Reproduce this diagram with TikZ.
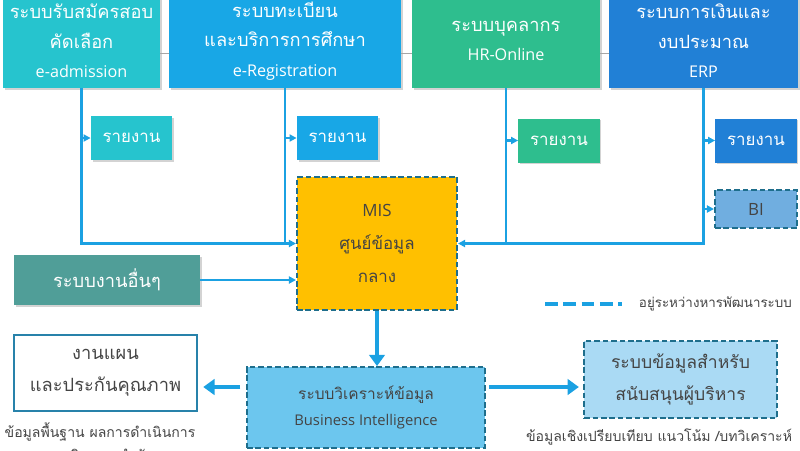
\documentclass[tikz,border=0pt]{standalone}
\usepackage{fontspec}
\setmainfont[Script=Thai]{Loma}
\newfontfamily\en{Open Sans}
\usetikzlibrary{arrows.meta,shadows}
\definecolor{admcol}{RGB}{38,196,206}
\definecolor{regcol}{RGB}{24,167,230}
\definecolor{hrcol}{RGB}{46,190,142}
\definecolor{erpcol}{RGB}{33,128,214}
\definecolor{othercol}{RGB}{80,158,152}
\definecolor{miscol}{RGB}{255,192,0}
\definecolor{bicol}{RGB}{112,174,224}
\definecolor{anacol}{RGB}{108,198,238}
\definecolor{execcol}{RGB}{170,218,244}
\definecolor{linecol}{RGB}{27,161,226}
\definecolor{devcol}{RGB}{30,110,140}
\definecolor{plancol}{RGB}{40,130,170}
\definecolor{txtcol}{RGB}{68,68,68}
\begin{document}
\begin{tikzpicture}[x = 0.025cm, y = -0.025cm, align = center,
    sys/.style = {fill = #1, text = white, inner sep = 0pt,
        drop shadow = {opacity = 0.35, shadow xshift = 1.2pt, shadow yshift = -1.2pt},
        font = \fontsize{13}{21}\selectfont},
    rep/.style = {sys = #1, minimum width = 2.03cm, minimum height = 1.1cm,
        font = \fontsize{12}{14}\selectfont},
    dev/.style = {fill = #1, text = txtcol, inner sep = 0pt, draw = devcol,
        line width = 1.4pt, dash pattern = on 4pt off 2pt},
    link/.style = {draw = linecol, line width = 2pt},
    tip/.style = {link, -{Triangle[length = 5pt, width = 5pt]}},
    big/.style = {draw = linecol, line width = 3pt, -{Triangle[length = 8pt, width = 11pt]}},
    note/.style = {text = txtcol, font = \fontsize{10}{16}\selectfont}]
    \clip (0, 0) rectangle (800, 450);
    \node[sys = admcol, minimum width = 3.93cm, minimum height = 2.35cm] (0) at (81.5, 41)
        {ระบบรับสมัครสอบ\\คัดเลือก\\{\en\fontsize{11.5}{21}\selectfont e-admission}};
    \node[sys = regcol, minimum width = 5.8cm, minimum height = 2.35cm] (1) at (285, 41)
        {ระบบทะเบียน\\และบริการการศึกษา\\{\en\fontsize{11.5}{21}\selectfont e-Registration}};
    \node[sys = hrcol, minimum width = 4.7cm, minimum height = 2.35cm] (2) at (506, 41)
        {ระบบบุคลากร\\{\en\fontsize{11.5}{21}\selectfont HR-Online}};
    \node[sys = erpcol, minimum width = 4.73cm, minimum height = 2.35cm] (3) at (703.5, 41)
        {ระบบการเงินและ\\งบประมาณ\\{\en\fontsize{11.5}{21}\selectfont ERP}};
    \foreach \a/\b in {0/1, 1/2, 2/3}
        \draw[gray!70] (\a.east |- 0, 53) -- (\b.west |- 0, 53);
    \node[rep = admcol] (4) at (131.5, 138) {รายงาน};
    \node[rep = regcol] (5) at (337.5, 138) {รายงาน};
    \node[rep = hrcol] (6) at (559, 140.5) {รายงาน};
    \node[rep = erpcol] (7) at (756, 140.5) {รายงาน};
    \node[dev = miscol, minimum width = 4cm, minimum height = 3.32cm,
        font = \fontsize{12}{23.5}\selectfont] (8) at (377, 243.5)
        {{\en MIS}\\ศูนย์ข้อมูล\\กลาง};
    \node[sys = othercol, minimum width = 4.65cm, minimum height = 1.25cm] (9) at (107, 280)
        {ระบบงานอื่นๆ};
    \node[dev = bicol, minimum width = 2.05cm, minimum height = 0.95cm] (10) at (756, 209)
        {\en\fontsize{12}{14}\selectfont BI};
    \node[dev = anacol, minimum width = 5.95cm, minimum height = 2.02cm,
        font = \fontsize{11}{19}\selectfont] (11) at (366, 407.5)
        {ระบบวิเคราะห์ข้อมูล\\{\en\fontsize{10.5}{19}\selectfont Business Intelligence}};
    \node[draw = plancol, line width = 1pt, text = txtcol, minimum width = 4.57cm,
        minimum height = 1.9cm, font = \fontsize{13}{22.5}\selectfont] (12) at (105.5, 373)
        {งานแผน\\และประกันคุณภาพ};
    \node[dev = execcol, minimum width = 4.82cm, minimum height = 1.93cm,
        font = \fontsize{12.5}{22.5}\selectfont] (13) at (680.5, 379.5)
        {ระบบข้อมูลสำหรับ\\สนับสนุนผู้บริหาร};
    \node[note, anchor = north] (14) at (100, 418) {ข้อมูลพื้นฐาน ผลการดำเนินการ\\การติดตาม ลำดับ};
    \node[note] (15) at (659, 437) {ข้อมูลเชิงเปรียบเทียบ แนวโน้ม /บทวิเคราะห์};
    \coordinate (16) at (545, 304);
    \coordinate (17) at (622, 304);
    \draw[draw = linecol, line width = 2.2pt, dash pattern = on 9pt off 4pt] (16) -- (17);
    \node[note, anchor = west, font = \fontsize{9.5}{12}\selectfont] (18) at (634, 304)
        {อยู่ระหว่างหารพัฒนาระบบ};
    \foreach \s/\r in {0/4, 1/5, 2/6, 3/7}
        \draw[tip] (\s.south |- \r.west) -- (\r.west);
    \draw[tip] (3.south |- 10.west) -- (10.west);
    \draw[link] (1.south) -- (1.south |- 8.west);
    \draw[link] (2.south) -- (2.south |- 8.east);
    \draw[tip] (0.south) |- (8.west);
    \draw[tip] (3.south) |- (8.east);
    \draw[tip] (9.east) -- (9.east -| 8.west);
    \draw[big] (8.south) -- (8.south |- 11.north);
    \draw[big, shorten <= 4pt, shorten >= 4pt] (11.west |- 0, 387) -- (12.east |- 0, 387);
    \draw[big, shorten <= 2pt, shorten >= 3pt] (11.east |- 0, 387) -- (13.west |- 0, 387);
\end{tikzpicture}
\end{document}
